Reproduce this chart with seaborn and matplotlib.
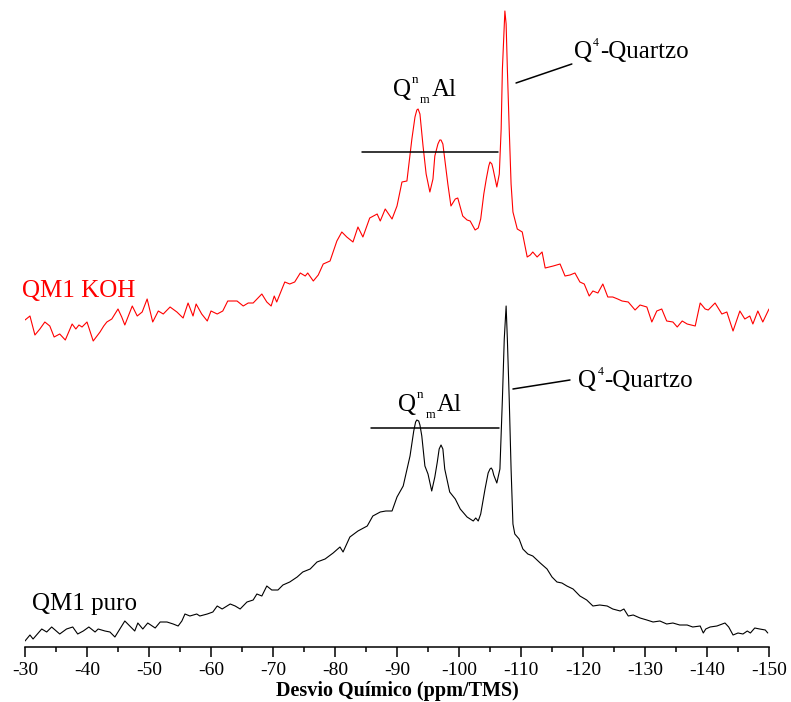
import pandas as pd
import seaborn as sns
import matplotlib.pyplot as plt
from matplotlib.ticker import MultipleLocator
from matplotlib.transforms import offset_copy

# Spectra (ppm, intensity in arbitrary units, stacked)
koh_ppm = [
    -30.0, -30.8, -31.6, -32.4, -33.2, -34.0, -34.7, -35.6, -36.5, -37.6,
    -38.2, -38.7, -39.2, -40.0, -41.0, -42.1, -42.7, -43.2, -44.0, -45.0,
    -45.6, -46.1, -47.3, -48.1, -48.9, -49.7, -50.6, -51.5, -52.3, -53.4,
    -54.5, -55.5, -56.3, -57.1, -57.6, -58.5, -59.4, -60.0, -61.0, -61.9,
    -62.7, -64.2, -65.2, -66.0, -66.8, -68.2, -69.0, -69.7, -70.2, -70.6,
    -71.9, -72.7, -73.5, -74.4, -75.2, -75.6, -76.5, -77.3, -78.1, -79.2,
    -80.3, -81.1, -81.9, -82.9, -83.7, -84.5, -85.6, -86.8, -87.3, -88.1,
    -89.2, -90.0, -90.8, -91.6, -92.4, -92.9, -93.2, -93.4, -93.7, -94.2, -94.7,
    -95.3, -95.8, -96.1, -96.6, -96.9, -97.1, -97.4, -97.7, -98.2, -98.7, -99.4, -99.8,
    -100.6, -101.3, -101.8, -102.6, -103.1, -103.5, -104.0, -104.4, -104.8, -105.0, -105.3, -105.5,
    -106.1, -106.5, -106.8, -107.0, -107.3, -107.4, -107.6, -107.8, -108.1, -108.4,
    -108.7, -109.4, -110.2, -111.0, -111.5, -111.9, -112.6, -113.4, -113.9, -115.2,
    -116.3, -117.1, -117.9, -118.7, -119.5, -120.2, -121.0, -121.6, -122.4, -123.2,
    -124.0, -124.8, -125.6, -126.3, -127.3, -128.4, -129.2, -130.3, -131.1, -131.9,
    -132.7, -133.5, -134.5, -135.2, -136.0, -136.8, -138.1, -138.9, -139.7, -140.2,
    -141.3, -142.4, -143.2, -144.2, -145.3, -146.1, -146.9, -147.4, -148.2, -149.0,
    -150.0,
]
koh_int = [
    327, 331, 312, 318, 325, 321, 310, 313, 307, 323,
    318, 322, 320, 325, 306, 315, 321, 325, 328, 338,
    330, 322, 341, 331, 335, 348, 325, 336, 333, 340,
    335, 329, 344, 331, 343, 333, 326, 336, 333, 336,
    346, 346, 341, 344, 344, 353, 345, 341, 351, 345,
    365, 363, 365, 374, 371, 374, 366, 372, 383, 386,
    406, 415, 410, 405, 420, 410, 429, 433, 426, 438,
    428, 441, 465, 466, 508, 530, 537, 538, 533, 501, 473,
    455, 468, 491, 503, 507, 507, 503, 488, 463, 441, 448, 449,
    431, 427, 426, 417, 419, 428, 453, 468, 481, 485, 483, 478,
    460, 473, 518, 578, 623, 636, 623, 578, 518, 463,
    435, 418, 415, 390, 392, 395, 390, 395, 379, 381,
    383, 371, 372, 374, 365, 363, 351, 356, 354, 363,
    350, 350, 348, 346, 345, 337, 342, 340, 325, 336,
    338, 326, 325, 320, 326, 323, 321, 344, 338, 337,
    344, 333, 335, 316, 336, 328, 331, 323, 336, 325,
    338,
]

puro_ppm = [
    -30.0, -30.8, -31.3, -32.7, -33.5, -34.3, -35.6, -36.7, -37.7, -38.5,
    -39.4, -40.3, -41.3, -41.8, -42.9, -43.7, -44.5, -46.1, -46.9, -47.7,
    -48.2, -49.0, -49.8, -51.0, -51.8, -52.9, -53.9, -54.7, -55.3, -55.8,
    -56.6, -57.7, -58.2, -59.4, -60.3, -61.0, -61.8, -63.1, -63.9, -64.7,
    -65.8, -66.8, -67.4, -68.2, -69.0, -69.8, -70.8, -71.6, -72.7, -73.9,
    -74.8, -76.0, -77.1, -78.4, -79.7, -80.8, -81.3, -82.4, -83.7, -85.2,
    -86.1, -87.3, -88.2, -89.2, -90.0, -91.0, -92.1, -92.7, -93.0, -93.2, -93.5, -93.7,
    -94.0, -94.5, -95.0, -95.6, -96.1, -96.5, -96.8, -97.1, -97.4, -97.7, -98.5, -99.4,
    -100.2, -101.3, -102.3, -102.7, -103.1, -103.5, -104.2, -104.7, -105.0, -105.2, -105.4, -105.6,
    -106.1, -106.6, -107.0, -107.3, -107.6, -107.8, -108.1, -108.4, -108.7, -109.0,
    -109.7, -110.3, -111.1, -111.9, -113.1, -114.2, -115.0, -115.8, -116.6, -117.4,
    -118.4, -119.5, -120.6, -121.6, -122.7, -123.9, -124.8, -126.0, -126.6, -127.3,
    -128.1, -129.2, -130.3, -131.3, -132.4, -133.5, -134.5, -135.6, -136.8, -137.7,
    -138.9, -139.4, -139.8, -140.5, -141.6, -142.9, -143.5, -144.2, -145.0, -145.8,
    -146.5, -147.0, -147.7, -148.5, -149.4, -149.8,
]
puro_int = [
    6, 12, 8, 18, 15, 20, 13, 18, 20, 13,
    16, 20, 15, 18, 16, 15, 10, 26, 21, 16,
    24, 18, 24, 19, 25, 25, 23, 21, 26, 33,
    31, 33, 31, 33, 35, 41, 38, 43, 41, 38,
    45, 47, 53, 51, 61, 57, 57, 62, 65, 70,
    75, 78, 85, 88, 94, 100, 95, 110, 116, 121,
    131, 135, 136, 136, 150, 161, 191, 216, 225, 227, 226, 222,
    211, 181, 173, 156, 170, 185, 198, 202, 198, 178, 155, 148,
    138, 130, 126, 129, 126, 133, 158, 174, 178, 179, 177, 172,
    164, 178, 248, 308, 341, 308, 248, 178, 123, 113,
    108, 98, 93, 91, 84, 78, 70, 65, 64, 61,
    58, 51, 47, 41, 42, 41, 38, 36, 38, 31,
    32, 29, 27, 25, 26, 23, 24, 22, 22, 20,
    21, 14, 18, 20, 21, 24, 20, 12, 14, 13,
    16, 14, 19, 18, 17, 14,
]

df = pd.concat([
    pd.DataFrame({"ppm": koh_ppm, "intensity": koh_int, "sample": "QM1 KOH"}),
    pd.DataFrame({"ppm": puro_ppm, "intensity": puro_int, "sample": "QM1 puro"}),
])

sns.set_style("white")
plt.rcParams["font.family"] = ["Liberation Serif", "DejaVu Serif"]
plt.rcParams["text.color"] = "black"
plt.rcParams["axes.labelcolor"] = "black"
plt.rcParams["xtick.color"] = "black"

fig = plt.figure(figsize=(7.91, 7.02), dpi=100)
ax = fig.add_axes([25 / 791, 55 / 702, 744 / 791, 647 / 702])

sns.lineplot(
    data=df, x="ppm", y="intensity", hue="sample",
    palette={"QM1 KOH": "red", "QM1 puro": "black"},
    sort=False, estimator=None, legend=False, linewidth=0.8, ax=ax,
)

ax.set_xlim(-30, -150)
ax.set_ylim(0, 647)
ax.set_yticks([])
ax.set_ylabel("")
for side in ["top", "left", "right"]:
    ax.spines[side].set_visible(False)
ax.spines["bottom"].set_linewidth(1.1)
ax.spines["bottom"].set_color("black")

ax.xaxis.set_major_locator(MultipleLocator(10))
ax.xaxis.set_minor_locator(MultipleLocator(5))
ax.tick_params(axis="x", which="major", direction="out", length=7, width=1.1,
               labelsize=14, pad=4, bottom=True)
ax.tick_params(axis="x", which="minor", direction="out", length=3.5, width=1.1,
               bottom=True)
ax.set_xticklabels([f"{int(v)}" for v in ax.get_xticks()])
ax.set_xlabel("Desvio Químico (ppm/TMS)", fontsize=14.5, fontweight="bold", labelpad=1.5)

# sample labels
ax.text(-29.5, 350, "QM1 KOH", color="red", fontsize=18, va="baseline", ha="left")
ax.text(-31.1, 37, "QM1 puro", color="black", fontsize=18, va="baseline", ha="left")


def shifted(dx, dy):
    return offset_copy(ax.transData, fig=fig, x=dx, y=dy, units="dots")


def qnm_label(x, y):
    ax.text(x, y, "Q", fontsize=18, va="baseline")
    ax.text(x, y, "n", fontsize=9.5, va="baseline", transform=shifted(18.5, 13))
    ax.text(x, y, "m", fontsize=9, va="baseline", transform=shifted(27, -7))
    ax.text(x, y, "Al", fontsize=18, va="baseline", transform=shifted(39, 0))


def quartz_label(x, y):
    ax.text(x, y, "Q", fontsize=18, va="baseline")
    ax.text(x, y, "4", fontsize=8.5, va="baseline", transform=shifted(19.5, 12))
    ax.text(x, y, "-Quartzo", fontsize=18, va="baseline", transform=shifted(26.5, 0))


# peak annotations, upper spectrum
qnm_label(-89.35, 551)
ax.plot([-84.35, -106.3], [495, 495], color="black", lw=1.1)
quartz_label(-118.5, 589)
ax.plot([-109.2, -118.2], [564, 583], color="black", lw=1.1)

# peak annotations, lower spectrum
qnm_label(-90.2, 236)
ax.plot([-85.8, -106.45], [219, 219], color="black", lw=1.1)
quartz_label(-119.2, 260)
ax.plot([-108.7, -117.9], [258, 267], color="black", lw=1.1)

fig.savefig("out.png", dpi=100)
